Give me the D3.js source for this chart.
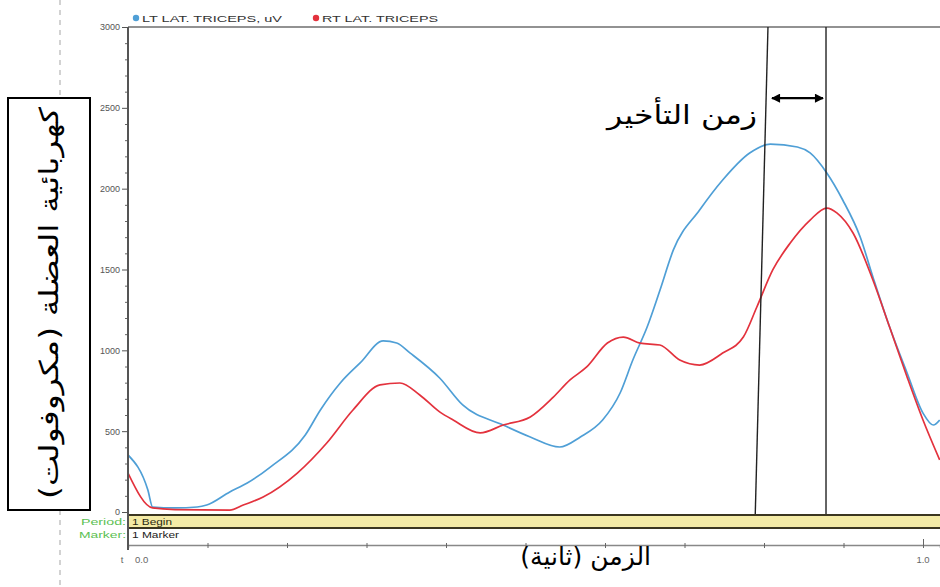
<!DOCTYPE html>
<html>
<head>
<meta charset="utf-8">
<script src="https://cdn.jsdelivr.net/npm/d3@7/dist/d3.min.js"></script>
<style>
  html, body { margin: 0; padding: 0; background: #fff; }
  svg { display: block; }
</style>
</head>
<body>
<svg id="chart" width="940" height="587"></svg>
<script>
// EMG envelope of left and right lateral triceps (microvolts) over time (seconds)
const ltTime = [0.000, 0.025, 0.031, 0.059, 0.087, 0.099, 0.128, 0.150, 0.179, 0.223, 0.242, 0.267, 0.292, 0.321, 0.338, 0.355, 0.392, 0.421, 0.472, 0.506, 0.543, 0.569, 0.597, 0.619, 0.635, 0.653, 0.669, 0.686, 0.719, 0.748, 0.782, 0.808, 0.842, 0.858, 0.879, 0.899, 0.921, 0.937, 0.958, 0.980, 1.000, 1.013, 1.021];
const ltTriceps = [353, 136, 31, 25, 31, 43, 124, 179, 278, 476, 631, 798, 922, 1058, 1045, 983, 829, 662, 538, 464, 402, 464, 569, 736, 940, 1144, 1370, 1621, 1868, 2054, 2221, 2276, 2258, 2221, 2097, 1930, 1701, 1454, 1144, 860, 612, 538, 569];

const rtTime = [0.000, 0.031, 0.059, 0.128, 0.145, 0.170, 0.213, 0.250, 0.283, 0.317, 0.342, 0.367, 0.392, 0.409, 0.443, 0.472, 0.506, 0.535, 0.556, 0.577, 0.603, 0.623, 0.644, 0.669, 0.694, 0.719, 0.748, 0.774, 0.791, 0.811, 0.833, 0.858, 0.879, 0.892, 0.912, 0.937, 0.958, 0.980, 1.000, 1.021];
const rtTriceps = [241, 25, 15, 12, 43, 93, 241, 427, 631, 786, 798, 724, 619, 569, 489, 538, 588, 711, 817, 897, 1045, 1082, 1045, 1033, 940, 909, 983, 1082, 1268, 1497, 1664, 1806, 1880, 1849, 1726, 1435, 1144, 835, 569, 322];

const seriesNames = ["LT LAT. TRICEPS, uV", "RT LAT. TRICEPS"];
const seriesColors = ["#4f9fd6", "#e3323d"];

const yMajorTicks = [0, 500, 1000, 1500, 2000, 2500, 3000];
const xTickValues = [0.1, 0.2, 0.3, 0.4, 0.5, 0.6, 0.7, 0.8, 0.9, 1.0];
const xTickLabels = [{ t: 0.0, text: "0.0" }, { t: 1.0, text: "1.0" }];

// delay markers: slanted onset line (top/bottom time), vertical peak line, arrow level
const onsetLine = [0.805, 0.789];
const peakLine = 0.878;
const arrowLevel = 2560;

const yTitle = "كهربائية العضلة (مكروفولت)";
const xTitle = "الزمن (ثانية)";
const delayLabel = "زمن التأخير";

const svg = d3.select("#chart");
const W = 940, H = 587;
const pLeft = 128, pRight = 940, pTop = 27, pBottom = 512;

const x = d3.scaleLinear().domain([0, (pRight - pLeft) / 795]).range([pLeft, pRight]);
const y = d3.scaleLinear().domain([0, 3000]).range([pBottom, pTop]);

svg.append("rect").attr("width", W).attr("height", H).attr("fill", "#fff");

// dashed page guide
svg.append("line")
  .attr("x1", 60).attr("x2", 60).attr("y1", 0).attr("y2", H)
  .attr("stroke", "#b5b5b5").attr("stroke-width", 1.2).attr("stroke-dasharray", "5,5");

// y title box
svg.append("rect")
  .attr("x", 8).attr("y", 98).attr("width", 82).attr("height", 412)
  .attr("fill", "#fff").attr("stroke", "#000").attr("stroke-width", 2);
svg.append("text")
  .attr("transform", "translate(50,303) rotate(-90)")
  .attr("text-anchor", "middle").attr("dominant-baseline", "middle")
  .attr("font-family", "DejaVu Sans").attr("font-size", 26)
  .attr("direction", "rtl")
  .attr("textLength", 392).attr("lengthAdjust", "spacingAndGlyphs")
  .text(yTitle);

// plot frame top border
svg.append("line")
  .attr("x1", pLeft).attr("x2", pRight).attr("y1", pTop).attr("y2", pTop)
  .attr("stroke", "#6e6e6e").attr("stroke-width", 1.5);

// legend
const legend = svg.append("g").attr("font-family", "Liberation Sans").attr("font-size", 9.5).attr("fill", "#333");
const legendSpots = [{ x: 136, len: 140 }, { x: 316, len: 116 }];
legendSpots.forEach((s, i) => {
  legend.append("circle").attr("cx", s.x).attr("cy", 18).attr("r", 3.2).attr("fill", seriesColors[i]);
  legend.append("text").attr("x", s.x + 6).attr("y", 22)
    .attr("textLength", s.len).attr("lengthAdjust", "spacingAndGlyphs")
    .text(seriesNames[i]);
});

// y axis
const yAxis = d3.axisLeft(y).tickValues(yMajorTicks).tickSize(6).tickFormat(d3.format("d"));
const gy = svg.append("g").attr("transform", `translate(${pLeft},0)`).call(yAxis);
gy.select(".domain").remove();
gy.selectAll("line").attr("stroke", "#555");
gy.selectAll("text").attr("font-family", "Liberation Sans").attr("font-size", 9).attr("fill", "#555").attr("x", -8);
const yMinor = d3.range(0, 3001, 100).filter(v => v % 500 !== 0);
const gyMinor = svg.append("g").attr("transform", `translate(${pLeft},0)`)
  .call(d3.axisLeft(y).tickValues(yMinor).tickSize(3).tickFormat(""));
gyMinor.select(".domain").remove();
gyMinor.selectAll("line").attr("stroke", "#666");

// series
svg.append("clipPath").attr("id", "plotClip")
  .append("rect").attr("x", pLeft).attr("y", pTop).attr("width", pRight - pLeft).attr("height", pBottom - pTop + 2);
const line = d3.line().x(d => x(d[0])).y(d => y(d[1])).curve(d3.curveMonotoneX);
const plot = svg.append("g").attr("clip-path", "url(#plotClip)");
plot.append("path")
  .datum(ltTime.map((t, i) => [t, ltTriceps[i]]))
  .attr("d", line).attr("fill", "none").attr("stroke", seriesColors[0]).attr("stroke-width", 1.7);
plot.append("path")
  .datum(rtTime.map((t, i) => [t, rtTriceps[i]]))
  .attr("d", line).attr("fill", "none").attr("stroke", seriesColors[1]).attr("stroke-width", 1.7);

// delay markers
svg.append("line")
  .attr("x1", x(onsetLine[0])).attr("y1", pTop).attr("x2", x(onsetLine[1])).attr("y2", pBottom + 2)
  .attr("stroke", "#222").attr("stroke-width", 1.4);
svg.append("line")
  .attr("x1", x(peakLine)).attr("y1", pTop).attr("x2", x(peakLine)).attr("y2", pBottom + 2)
  .attr("stroke", "#222").attr("stroke-width", 1.4);

const defs = svg.append("defs");
["arrEnd", "arrStart"].forEach((id, i) => {
  defs.append("marker").attr("id", id)
    .attr("viewBox", "0 0 10 10").attr("refX", 9).attr("refY", 5)
    .attr("markerWidth", 11).attr("markerHeight", 9).attr("markerUnits", "userSpaceOnUse")
    .attr("orient", i === 0 ? "auto" : "auto-start-reverse")
    .append("path").attr("d", "M0,0 L10,5 L0,10 Z").attr("fill", "#000");
});
svg.append("line")
  .attr("x1", x(onsetLine[0]) + 4).attr("x2", x(peakLine) - 3)
  .attr("y1", y(arrowLevel)).attr("y2", y(arrowLevel))
  .attr("stroke", "#000").attr("stroke-width", 2.2)
  .attr("marker-start", "url(#arrStart)").attr("marker-end", "url(#arrEnd)");
svg.append("text")
  .attr("x", 757).attr("y", 124).attr("text-anchor", "end")
  .attr("font-family", "DejaVu Sans").attr("font-size", 26).attr("fill", "#000")
  .attr("textLength", 150).attr("lengthAdjust", "spacingAndGlyphs")
  .text(delayLabel);

// period / marker bands
svg.append("rect").attr("x", pLeft).attr("y", 516).attr("width", pRight - pLeft).attr("height", 11).attr("fill", "#f4eba6");
[515, 528].forEach(yy => svg.append("line")
  .attr("x1", pLeft).attr("x2", pRight).attr("y1", yy).attr("y2", yy)
  .attr("stroke", "#3b3620").attr("stroke-width", 2));
const bandText = svg.append("g").attr("font-family", "Liberation Sans").attr("font-size", 9);
const bandLabels = [
  { x: 132, y: 525, text: "1 Begin", len: 40, fill: "#2a2a10", anchor: "start" },
  { x: 132, y: 538, text: "1 Marker", len: 47, fill: "#222", anchor: "start" },
  { x: 126, y: 525, text: "Period:", len: 45, fill: "#5cbf52", anchor: "end" },
  { x: 126, y: 538, text: "Marker:", len: 47, fill: "#5cbf52", anchor: "end" }
];
bandLabels.forEach(b => bandText.append("text")
  .attr("x", b.anchor === "end" ? b.x - b.len : b.x).attr("y", b.y)
  .attr("fill", b.fill).attr("textLength", b.len).attr("lengthAdjust", "spacingAndGlyphs")
  .text(b.text));

// time axis
const gx = svg.append("g").attr("transform", "translate(0,545)")
  .call(d3.axisBottom(x).tickValues(xTickValues).tickSize(3).tickFormat(""));
gx.select(".domain").attr("stroke", "#888").attr("stroke-width", 1.5);
gx.selectAll(".tick line").attr("stroke", "#666").attr("y1", -2);
gx.selectAll(".tick").filter(d => d === 1.0).select("line").attr("y1", -6).attr("y2", 3);
svg.append("line").attr("x1", pLeft).attr("x2", pLeft).attr("y1", pTop).attr("y2", 550)
  .attr("stroke", "#555").attr("stroke-width", 2);
const xl = svg.append("g").attr("font-family", "Liberation Sans").attr("font-size", 9.5).attr("fill", "#666");
xl.append("text").attr("x", 122).attr("y", 563).attr("text-anchor", "middle").text("t");
xTickLabels.forEach(d => {
  xl.append("text")
    .attr("x", d.t === 0 ? x(d.t) + 7 : x(d.t))
    .attr("y", 563).attr("text-anchor", d.t === 0 ? "start" : "middle").text(d.text);
});

svg.append("text")
  .attr("x", 651).attr("y", 565).attr("text-anchor", "end")
  .attr("font-family", "DejaVu Sans").attr("font-size", 25).attr("fill", "#000")
  .text(xTitle);
</script>
</body>
</html>
